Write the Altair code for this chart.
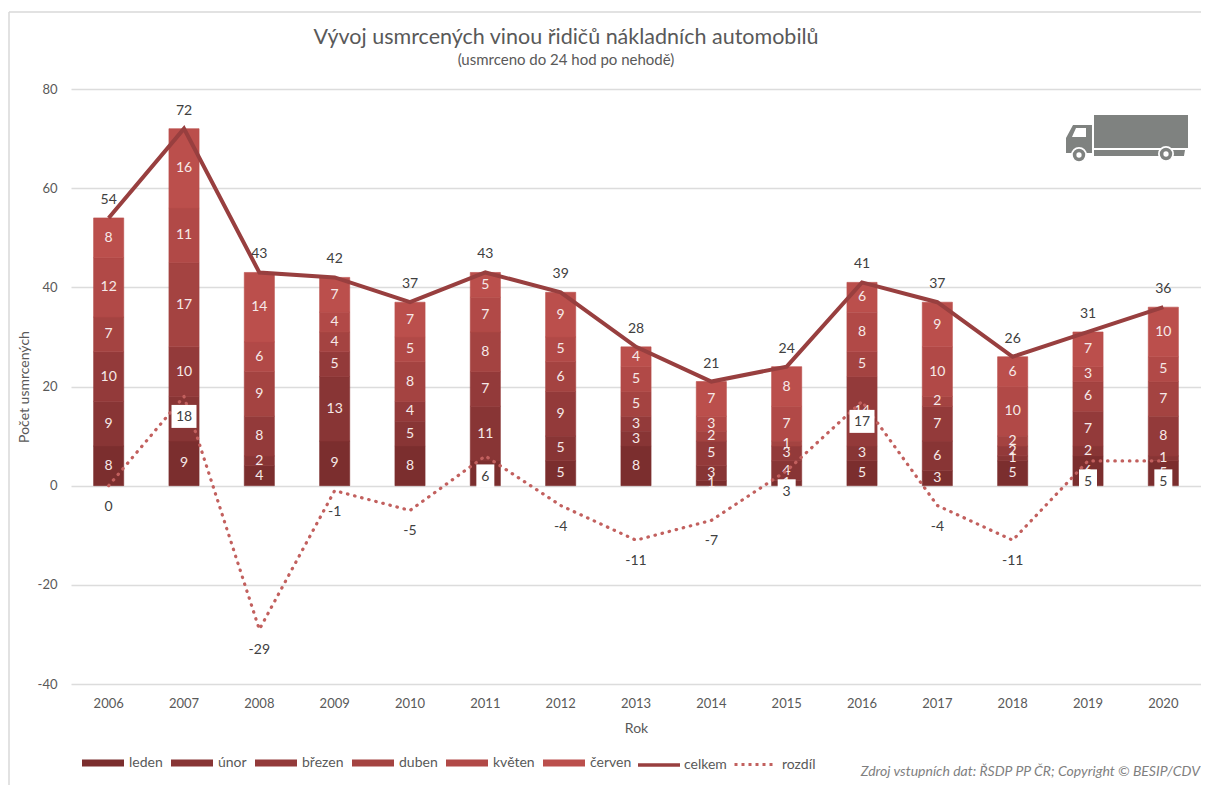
import altair as alt
import pandas as pd

years = [str(y) for y in range(2006, 2021)]
months = ["leden", "únor", "březen", "duben", "květen", "červen"]
leden = [8, 9, 4, 9, 8, 5, 5, 8, 1, 1, 5, 3, 5, 6, 5]
unor = [9, 9, 2, 13, 5, 11, 5, 3, 3, 4, 3, 6, 1, 2, 1]
brezen = [10, 10, 8, 5, 4, 7, 9, 3, 5, 3, 14, 7, 2, 7, 8]
duben = [7, 17, 9, 4, 8, 8, 6, 5, 2, 1, 5, 2, 2, 6, 7]
kveten = [12, 11, 6, 4, 5, 7, 5, 5, 3, 7, 8, 10, 10, 3, 5]
cerven = [8, 16, 14, 7, 7, 5, 9, 4, 7, 8, 6, 9, 6, 7, 10]
celkem = [54, 72, 43, 42, 37, 43, 39, 28, 21, 24, 41, 37, 26, 31, 36]
rozdil = [0, 18, -29, -1, -5, 6, -4, -11, -7, 3, 17, -4, -11, 5, 5]
boxed_wide = ["2007", "2016"]
boxed_narrow = ["2011", "2015", "2019", "2020"]

bar_colors = ["#7b2e2e", "#883535", "#933a3a", "#a44341", "#b14947", "#bb4f4c"]
FONT = "Lato"
TXT = "#595959"
PL, PT = 71, 89  # page position of the plot's corner

rows = []
series = [leden, unor, brezen, duben, kveten, cerven]
for m_i, (m, vals) in enumerate(zip(months, series)):
    for y_i, y in enumerate(years):
        below = sum(s[y_i] for s in series[:m_i])
        rows.append({"rok": y, "mesic": m, "idx": m_i, "v": vals[y_i], "mid": below + vals[y_i] / 2})
long_df = pd.DataFrame(rows)
tot_df = pd.DataFrame({"rok": years, "celkem": celkem, "rozdil": rozdil,
                       "rozdil_txt": [str(v) for v in rozdil],
                       "s1": "celkem", "s2": "rozdíl"})

x = alt.X("rok:N", title="Rok", scale=alt.Scale(paddingInner=0.6, paddingOuter=0.3),
          axis=alt.Axis(labelAngle=0, domain=False, ticks=False, labelPadding=13, titlePadding=11,
                        labelFont=FONT, labelFontSize=13, labelColor=TXT, titleFont=FONT,
                        titleFontSize=14, titleColor=TXT, titleFontWeight="normal"))
yscale = alt.Scale(domain=[-40, 80])

bars = alt.Chart(long_df).mark_bar(strokeWidth=0.6).encode(
    x=x,
    y=alt.Y("v:Q", stack="zero", scale=yscale, title="Počet usmrcených",
            axis=alt.Axis(values=[-40, -20, 0, 20, 40, 60, 80], domain=False, ticks=False,
                          labelExpr="'' + datum.value",
                          gridColor="#dcdcdc", gridWidth=1.5, labelPadding=14, titlePadding=6,
                          labelFont=FONT, labelFontSize=13, labelColor=TXT, titleFont=FONT,
                          titleFontSize=14, titleColor=TXT, titleFontWeight="normal")),
    order=alt.Order("idx:Q"),
    stroke=alt.Stroke("mesic:N", scale=alt.Scale(domain=months, range=bar_colors), legend=None),
    color=alt.Color("mesic:N", scale=alt.Scale(domain=months, range=bar_colors),
                    legend=alt.Legend(title=None, orient="none", direction="horizontal", columns=6,
                                      legendX=82 - PL, legendY=763 - PT - 21, padding=0,
                                      symbolType="M-1,-0.17H1V0.17H-1Z", symbolSize=1764,
                                      symbolStrokeWidth=0, labelOffset=5, columnPadding=8,
                                      labelFont=FONT, labelFontSize=14, labelColor=TXT)),
)
seg_labels = alt.Chart(long_df).mark_text(font=FONT, fontSize=14, color="#f6e9e8").encode(
    x="rok:N", y=alt.Y("mid:Q", scale=yscale), text="v:Q")

line_total = alt.Chart(tot_df).mark_line(strokeWidth=4).encode(
    x="rok:N", y=alt.Y("celkem:Q", scale=yscale),
    stroke=alt.Stroke("s1:N", scale=alt.Scale(range=["#983f3f"]),
                      legend=alt.Legend(title=None, orient="none", legendX=636 - PL, legendY=763 - PT - 21,
                                        padding=0, symbolType="stroke", symbolSize=1764, symbolStrokeWidth=3.5,
                                        labelOffset=2, labelFont=FONT, labelFontSize=14, labelColor=TXT)))
line_diff = alt.Chart(tot_df).mark_line(strokeWidth=3.2, strokeDash=[0.5, 6.8], strokeCap="round").encode(
    x="rok:N", y=alt.Y("rozdil:Q", scale=yscale),
    stroke=alt.Stroke("s2:N", scale=alt.Scale(range=["#c2605e"]),
                      legend=alt.Legend(title=None, orient="none", legendX=733 - PL, legendY=763 - PT - 21,
                                        padding=0, symbolType="stroke", symbolSize=1764, symbolStrokeWidth=3,
                                        symbolDash=[3, 4], labelOffset=4, labelFont=FONT, labelFontSize=14,
                                        labelColor=TXT)))

box_w = alt.Chart(tot_df[tot_df.rok.isin(boxed_wide)]).mark_rect(color="white", width=25, height=23, yOffset=20).encode(
    x="rok:N", y=alt.Y("rozdil:Q", scale=yscale))
box_n = alt.Chart(tot_df[tot_df.rok.isin(boxed_narrow)]).mark_rect(color="white", width=18, height=23, yOffset=20).encode(
    x="rok:N", y=alt.Y("rozdil:Q", scale=yscale))

tot_labels = alt.Chart(tot_df).mark_text(font=FONT, fontSize=14, color="#404040", dy=-18).encode(
    x="rok:N", y=alt.Y("celkem:Q", scale=yscale), text="celkem:Q")
diff_labels = alt.Chart(tot_df).mark_text(font=FONT, fontSize=14, color="#404040", dy=21).encode(
    x="rok:N", y=alt.Y("rozdil:Q", scale=yscale), text="rozdil_txt:N")

one = pd.DataFrame({"a": [0]})
def px(v): return alt.value(v - PL)
def py(v): return alt.value(v - PT)

frame_top = alt.Chart(one).mark_rule(color="#d9d9d9", strokeWidth=1.5).encode(x=px(9), x2=px(1201), y=py(12))
frame_left = alt.Chart(one).mark_rule(color="#d9d9d9", strokeWidth=1.5).encode(x=px(9), y=py(12), y2=py(785))

source = alt.Chart(pd.DataFrame({"t": ["Zdroj vstupních dat: ŘSDP PP ČR; Copyright © BESIP/CDV"]})).mark_text(
    font=FONT, fontSize=14, fontStyle="italic", color="#7f7f7f", align="right"
).encode(x=px(1200), y=py(772), text="t:N")

# truck icon: path in units of half its width, centred on (1127, 138), half width 61
def n(xp, yp):
    return f"{(xp - 1127) / 61:.3f},{(yp - 138) / 61:.3f}"
def poly(pts):
    return "M" + "L".join(n(*p) for p in pts) + "Z"
body = (poly([(1094, 115), (1188, 115), (1188, 148), (1094, 148)])
        + poly([(1094, 150), (1185, 150), (1184, 156), (1094, 156)])
        + poly([(1092, 125), (1092, 153), (1066, 153), (1066, 138), (1073, 125)]))
window = poly([(1076, 128), (1086, 128), (1086, 137), (1072, 137)])
GRAY = "#7f8280"
truck = [
    alt.Chart(one).mark_point(shape=body, size=122 ** 2, filled=True, opacity=1, color=GRAY, strokeWidth=0).encode(x=px(1127), y=py(138)),
    alt.Chart(one).mark_point(shape=window, size=122 ** 2, filled=True, opacity=1, color="white", strokeWidth=0).encode(x=px(1127), y=py(138)),
]
for wx, wy in [(1079, 155), (1166, 154)]:
    for sz, col in [(254, "white"), (154, GRAY), (28, "white")]:
        truck.append(alt.Chart(one).mark_circle(size=sz, opacity=1, color=col).encode(x=px(wx), y=py(wy)))

chart = alt.layer(
    frame_top, frame_left, bars, seg_labels, line_total, line_diff, box_w, box_n,
    tot_labels, diff_labels, source, *truck
).resolve_scale(stroke="independent").properties(
    width=1130, height=595,
    padding={"left": PL - 8, "top": PT - 8, "right": 0, "bottom": 101},
    autosize="none",
    title=alt.TitleParams(
        text="Vývoj usmrcených vinou řidičů nákladních automobilů",
        subtitle="(usmrceno do 24 hod po nehodě)",
        anchor="middle", dx=-70, offset=-57, font=FONT, fontSize=21.5, fontWeight="normal", color=TXT,
        subtitleFont=FONT, subtitleFontSize=15, subtitleColor=TXT, subtitlePadding=5),
).configure_view(stroke=None)

chart.save("out.html", embed_options={"renderer": "svg", "actions": False})
